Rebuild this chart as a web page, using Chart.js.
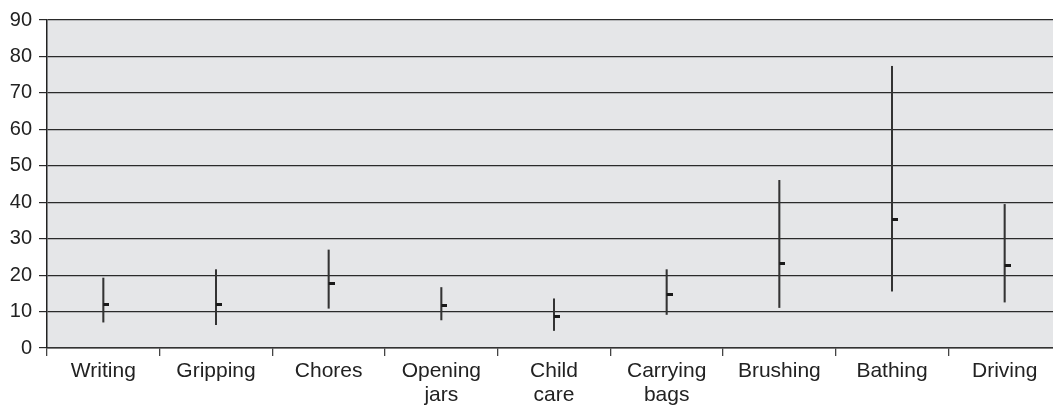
<!DOCTYPE html>
<html>
<head>
<meta charset="utf-8">
<script src="https://cdn.jsdelivr.net/npm/chart.js@4"></script>
<style>
  html, body { margin: 0; padding: 0; background: #fff; overflow: hidden; }
  #wrap { width: 1068px; height: 406px; }
</style>
</head>
<body>
<div id="wrap"><canvas id="myChart" width="1068" height="406"></canvas></div>
<script>
const categories = [["Writing"], ["Gripping"], ["Chores"], ["Opening", "jars"], ["Child", "care"],
  ["Carrying", "bags"], ["Brushing"], ["Bathing"], ["Driving"]];
const lows = [7.1, 6.4, 10.9, 7.7, 4.8, 9.2, 11.1, 15.6, 12.6];
const highs = [19.2, 21.5, 26.9, 16.6, 13.5, 21.5, 46.0, 77.3, 39.4];
const means = [11.9, 11.9, 17.6, 11.6, 8.6, 14.7, 23.1, 35.2, 22.6];
const yTicks = [0, 10, 20, 30, 40, 50, 60, 70, 80, 90];

// small dash sitting just right of the range line
const dash = document.createElement("canvas");
dash.width = 12;
dash.height = 3;
const dctx = dash.getContext("2d");
dctx.fillStyle = "#1a1a1a";
dctx.fillRect(6, 0, 6, 3);

const plotBg = {
  id: "plotBg",
  beforeDraw(chart) {
    const { ctx, chartArea: a } = chart;
    ctx.save();
    ctx.fillStyle = "#e5e6e8";
    ctx.fillRect(a.left, a.top, a.right - a.left, a.bottom - a.top);
    ctx.restore();
  },
};

const ctx = document.getElementById("myChart");

new Chart(ctx, {
  type: "bar",
  data: {
    labels: categories,
    datasets: [
      {
        type: "line",
        label: "Mean",
        data: means,
        showLine: false,
        pointStyle: dash,
        pointRadius: 6,
        order: 0,
      },
      {
        label: "Range",
        data: lows.map((l, i) => [l, highs[i]]),
        backgroundColor: "#333",
        borderWidth: 0,
        barThickness: 1.4,
        order: 1,
      },
    ],
  },
  options: {
    responsive: false,
    animation: false,
    layout: { padding: { top: 20, right: 0, left: 0, bottom: 0 } },
    plugins: { legend: { display: false }, tooltip: { enabled: false } },
    scales: {
      x: {
        offset: true,
        grid: { offset: true, drawOnChartArea: false, drawTicks: true, tickLength: 8, color: "#444", lineWidth: 1.3 },
        border: { color: "#333", width: 1.5 },
        ticks: {
          color: "#222",
          font: { family: "Liberation Sans, Arial, sans-serif", size: 21, lineHeight: 1.15 },
          padding: 3,
          maxRotation: 0,
          autoSkip: false,
        },
        afterFit: (s) => { s.height = 58; },
      },
      y: {
        min: 0,
        max: 90,
        afterBuildTicks: (s) => { s.ticks = yTicks.map((v) => ({ value: v })); },
        grid: { color: "#2a2a2a", lineWidth: 1.2, tickLength: 8 },
        border: { color: "#222", width: 1.5 },
        ticks: {
          color: "#222",
          font: { family: "Liberation Sans, Arial, sans-serif", size: 20 },
          padding: 7,
        },
        afterFit: (s) => { s.width = 47; },
      },
    },
  },
  plugins: [plotBg],
});
</script>
</body>
</html>
